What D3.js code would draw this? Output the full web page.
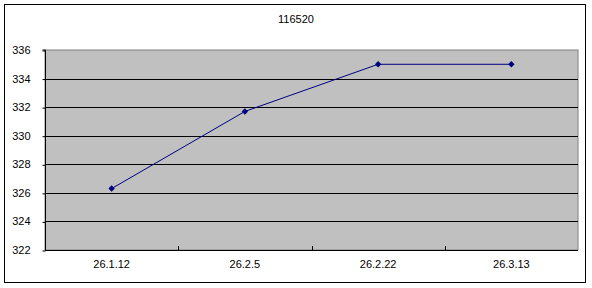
<!DOCTYPE html>
<html><head><meta charset="utf-8">
<script src="https://cdn.jsdelivr.net/npm/d3@7"></script>
<style>body{margin:0;background:#fff}svg{display:block}text{font-family:"Liberation Sans","DejaVu Sans",sans-serif;}</style>
</head><body><svg id="c" width="592" height="288"></svg>
<script>
const title = "116520";
const categories = ["26.1.12","26.2.5","26.2.22","26.3.13"];
const values = [326.3, 331.7, 335.0, 335.0];
const yTicks = [322,324,326,328,330,332,334,336];

const svg = d3.select("#c");
const W=592,H=288;
const m={l:45,r:14,t:50,b:38};
const pw=W-m.l-m.r, ph=H-m.t-m.b;

svg.append("rect").attr("x",4.5).attr("y",4.5).attr("width",581).attr("height",278)
  .attr("fill","#fff").attr("stroke","#000");

const x=d3.scaleBand().domain(categories).range([m.l,m.l+pw]);
const y=d3.scaleLinear().domain([322,336]).range([m.t+ph,m.t]);

svg.append("rect").attr("x",m.l).attr("y",m.t).attr("width",pw).attr("height",ph)
  .attr("fill","#c0c0c0").attr("stroke","#808080");

// grid
svg.append("g").selectAll("line").data(yTicks.filter(d=>d>322&&d<336)).join("line")
  .attr("x1",m.l).attr("x2",m.l+pw).attr("y1",d=>Math.round(y(d))+0.5).attr("y2",d=>Math.round(y(d))+0.5)
  .attr("stroke","#000");

// y axis
const ya=svg.append("g").attr("transform",`translate(${m.l+0.5},0)`)
  .call(d3.axisLeft(y).tickValues(yTicks).tickSize(3).tickPadding(12).tickFormat(d3.format("d")));
ya.select(".domain").attr("stroke","#000").attr("d",`M-3,${m.t}H0V${m.t+ph}`);
ya.selectAll("text").attr("font-size",11).attr("fill","#000");
ya.selectAll(".tick line").attr("transform","translate(0,0.5)");

// x axis
const xa=svg.append("g").attr("transform",`translate(0,${m.t+ph+0.5})`)
  .call(d3.axisBottom(x).tickSize(0).tickPadding(10));
xa.select(".domain").attr("stroke","#000").attr("d",`M${m.l},0H${m.l+pw}`);
xa.selectAll("text").attr("font-size",11).attr("fill","#000");
svg.append("g").selectAll("line").data(categories.slice(1)).join("line")
  .attr("x1",d=>Math.round(x(d))+0.5).attr("x2",d=>Math.round(x(d))+0.5)
  .attr("y1",m.t+ph).attr("y2",m.t+ph-4).attr("stroke","#000");

// line
const pts=categories.map((c,i)=>[x(c)+x.bandwidth()/2,y(values[i])]);
svg.append("path").attr("d",d3.line()(pts)).attr("fill","none").attr("stroke","#000080").attr("stroke-width",1);
svg.append("g").selectAll("path").data(pts).join("path")
  .attr("d","M0,-3.2L3.2,0L0,3.2L-3.2,0Z").attr("transform",d=>`translate(${d[0]},${d[1]})`)
  .attr("fill","#000080");

svg.append("text").attr("x",W/2).attr("y",23).attr("text-anchor","middle").attr("font-size",11).text(title);
</script></body></html>
